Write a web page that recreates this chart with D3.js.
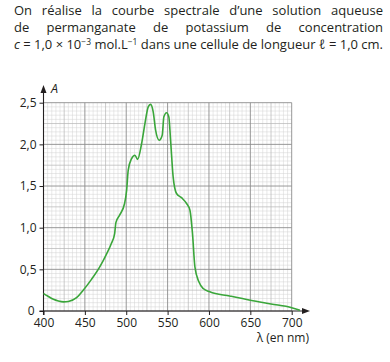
<!DOCTYPE html>
<html><head><meta charset="utf-8">
<script src="https://cdn.jsdelivr.net/npm/d3@7"></script>
<style>
html,body{margin:0;padding:0;background:#fff;}
svg{display:block;}
text{font-family:"Open Sans","Noto Sans",sans-serif;fill:#231f20;}
</style></head>
<body>
<svg id="c" width="390" height="362"></svg>
<script>
// ---- data ----
const wavelengths = [400,405,412,418,424,430,440,448,458,468,476,482,486,487.5,492,498,500.5,502.4,506.5,510.5,513.7,518.6,522.6,526.6,529.4,532.6,535.5,539.8,543.5,545.5,548.7,551.5,553.6,556.7,560.8,566.8,572.9,577,580,583,587.8,593,601,625,650,675,700,710];
const absorbance  = [0.21,0.18,0.14,0.12,0.11,0.115,0.16,0.25,0.38,0.53,0.68,0.81,0.93,1.06,1.15,1.29,1.45,1.69,1.83,1.87,1.82,2.01,2.25,2.45,2.48,2.39,2.17,2.05,2.11,2.33,2.38,2.33,2.05,1.61,1.41,1.36,1.29,1.21,0.94,0.53,0.35,0.27,0.23,0.18,0.13,0.085,0.04,0.01];
const xTicks = [400,450,500,550,600,650,700];
const yTicks = [0,0.5,1.0,1.5,2.0,2.5];
const titleLines = [
  "On réalise la courbe spectrale d’une solution aqueuse",
  "de permanganate de potassium de concentration"
];

const svg = d3.select("#c");
const x = d3.scaleLinear().domain([400,700]).range([43.5,291.7]);
const y = d3.scaleLinear().domain([0,2.5]).range([311,102.7]);

// ---- title (justified) ----
const tfs = 13;
titleLines.forEach((line,i)=>{
  const words = line.split(" ");
  const g = svg.append("g");
  const ts = words.map(w=>g.append("text").attr("font-size",tfs).attr("y",15+i*17).text(w));
  const widths = ts.map(t=>t.node().getComputedTextLength());
  const total = d3.sum(widths);
  const gap = (383-14-total)/(words.length-1);
  let cx = 14;
  ts.forEach((t,j)=>{ t.attr("x",cx); cx += widths[j]+gap; });
});
const l3 = svg.append("text").attr("font-size",tfs).attr("x",14).attr("y",49);
l3.append("tspan").attr("font-style","italic").text("c");
l3.append("tspan").text(" = 1,0 × 10");
l3.append("tspan").attr("font-size",8.5).attr("dy",-4.5).text("−3");
l3.append("tspan").attr("dy",4.5).text(" mol.L");
l3.append("tspan").attr("font-size",8.5).attr("dy",-4.5).text("−1");
l3.append("tspan").attr("dy",4.5).text(" dans une cellule de longueur ");
l3.append("tspan").attr("font-style","italic").text("ℓ");
l3.append("tspan").text(" = 1,0 cm.");
l3.attr("textLength",369).attr("lengthAdjust","spacing");

// ---- grid ----
const grid = svg.append("g");
const minorX = d3.range(400,700.1,5), minorY = d3.range(0,2.501,0.05);
function cls(v,step,med,maj){const r=Math.round(v/step);return r%Math.round(maj/step)===0?2:(r%Math.round(med/step)===0?1:0);}
const colors = ["#d2d2d2","#b4b4b4","#8c8c8c"];
const widthsG = [0.5,0.7,0.9];
[0,1,2].forEach(level=>{
  minorX.filter(v=>cls(v-400,5,25,50)===level).forEach(v=>{
    grid.append("line").attr("x1",x(v)).attr("x2",x(v)).attr("y1",y(0)).attr("y2",y(2.5))
      .attr("stroke",colors[level]).attr("stroke-width",widthsG[level]);
  });
  minorY.filter(v=>cls(v,0.05,0.25,0.5)===level).forEach(v=>{
    grid.append("line").attr("x1",x(400)).attr("x2",x(700)).attr("y1",y(v)).attr("y2",y(v))
      .attr("stroke",colors[level]).attr("stroke-width",widthsG[level]);
  });
});

// ---- axes ----
const xAxis = d3.axisBottom(x).tickValues(xTicks).tickSize(4).tickFormat(d3.format("d"));
const gx = svg.append("g").attr("transform",`translate(0,${y(0)})`).call(xAxis);
gx.select(".domain").remove();
gx.selectAll(".tick line").attr("stroke","#231f20");
gx.selectAll(".tick text").attr("font-size",12).attr("y",15.5).attr("dy",0).attr("fill","#231f20")
  .style("font-family",'"Open Sans","Noto Sans",sans-serif');

const yAxis = d3.axisLeft(y).tickValues(yTicks).tickSize(4).tickFormat(d=>d===0?"0":d3.format(".1f")(d).replace(".",","));
const gy = svg.append("g").attr("transform",`translate(${x(400)},0)`).call(yAxis);
gy.select(".domain").remove();
gy.selectAll(".tick line").attr("stroke","#231f20");
gy.selectAll(".tick text").attr("font-size",12).attr("x",d=>d===0?-9:-7).attr("dy",d=>d===0?"0.25em":"0.32em").attr("fill","#231f20")
  .style("font-family",'"Open Sans","Noto Sans",sans-serif');

// axis lines with arrows
svg.append("line").attr("x1",x(400)).attr("x2",x(400)).attr("y1",y(0)+4).attr("y2",90)
  .attr("stroke","#231f20").attr("stroke-width",1.1);
svg.append("path").attr("d",`M${x(400)},85 l-3,8 l6,0 z`).attr("fill","#231f20");
svg.append("line").attr("x1",x(400)-4).attr("x2",305).attr("y1",y(0)).attr("y2",y(0))
  .attr("stroke","#231f20").attr("stroke-width",1.1);
svg.append("path").attr("d",`M310,${y(0)} l-8,-3 l0,6 z`).attr("fill","#231f20");

svg.append("text").attr("x",51).attr("y",93).attr("font-size",12.5).attr("font-style","italic").text("A");
svg.append("text").attr("x",309).attr("y",342).attr("font-size",12).attr("text-anchor","end").text("λ (en nm)");

// ---- curve ----
const line = d3.line().x((d,i)=>x(wavelengths[i])).y(d=>y(d)).curve(d3.curveMonotoneX);
svg.append("path").datum(absorbance).attr("d",line).attr("fill","none")
  .attr("stroke","#3aa63a").attr("stroke-width",1.6);
</script>
</body></html>
